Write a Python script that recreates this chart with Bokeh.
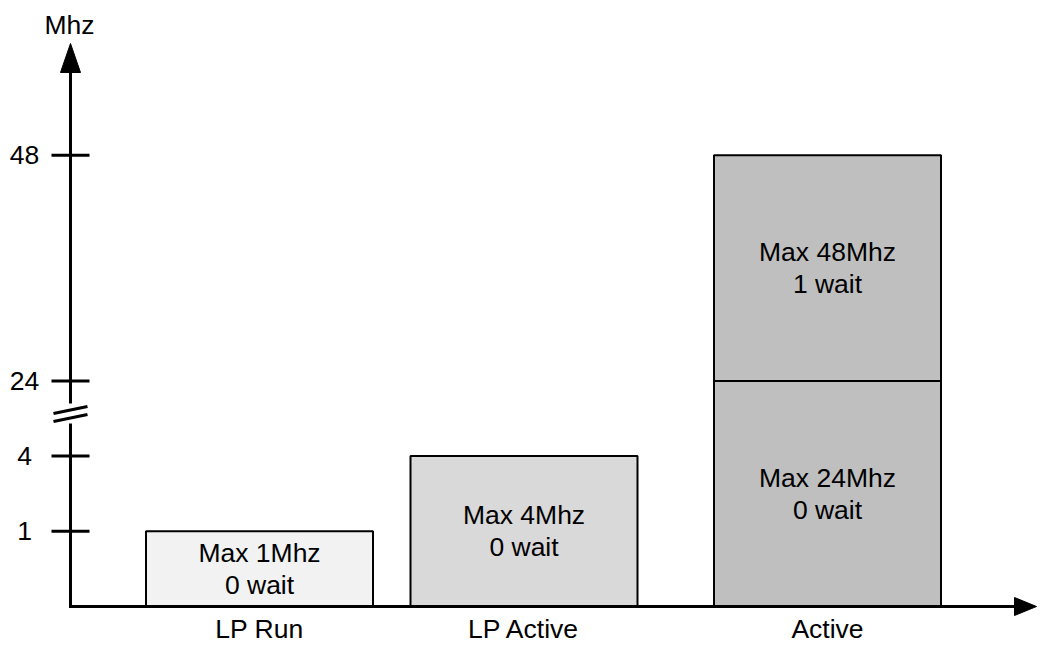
import numpy as np
from bokeh.plotting import figure
from bokeh.models import Range1d
from bokeh.embed import file_html
from bokeh.resources import INLINE
from bokeh.core.properties import value

# ---------------- data ----------------
categories = ["LP Run", "LP Active", "Active"]
seg_category = ["LP Run", "LP Active", "Active", "Active"]
seg_low = [0, 0, 0, 24]
seg_high = [1, 4, 24, 48]
seg_wait = [0, 0, 0, 1]
seg_color = ["#f2f2f2", "#d9d9d9", "#bfbfbf", "#bfbfbf"]
tick_values = [1, 4, 24, 48]
y_title = "Mhz"

# broken (non-linear) value scale: breakpoints -> evenly spaced display levels
SCALE_IN = [0, 1, 4, 24, 48]
SCALE_OUT = [0, 1, 2, 3, 6]


def to_level(v):
    return np.interp(np.asarray(v, dtype=float), SCALE_IN, SCALE_OUT)


# ---------------- layout ----------------
W, H = 1037, 647
PX = 75.2      # pixels per display level
BASE = 606     # screen y of the zero line
AX = 70        # screen x of the value axis


def py(sy):
    return (BASE - sy) / PX


cat_center = {"LP Run": 259, "LP Active": 523.5, "Active": 827}
BAR_W = 227
FONT = value("Liberation Sans")
FS = "26.5px"

p = figure(width=W, height=H, x_range=Range1d(0, W),
           y_range=Range1d(py(H), py(0)),
           x_axis_type=None, y_axis_type=None,
           output_backend="svg", toolbar_location=None, min_border=0,
           outline_line_color=None, background_fill_color="white",
           styles={"margin-bottom": "-8px", "margin-right": "-8px"})
p.grid.visible = False

# bars
xc = np.array([cat_center[c] for c in seg_category])
lo = to_level(seg_low)
hi = to_level(seg_high)
p.quad(left=xc - BAR_W / 2, right=xc + BAR_W / 2, bottom=lo, top=hi,
       fill_color=seg_color, line_color="black", line_width=2)

# bar labels
labels = [f"Max {h}Mhz\n{w} wait" for h, w in zip(seg_high, seg_wait)]
p.text(x=xc, y=(lo + hi) / 2, text=labels, text_font=FONT, text_font_size=FS,
       text_align="center", text_baseline="middle", text_line_height=1.08,
       text_color="black")

# x axis with arrow
p.segment(x0=[AX], y0=[0], x1=[1016], y1=[0], line_color="black", line_width=3)
p.patch(x=[1014, 1036, 1014], y=[py(597), 0, py(615)], fill_color="black",
        line_color="black", line_width=1)

# y axis (broken) with arrow
p.segment(x0=[AX, AX], y0=[py(BASE + 1.5), py(403)], x1=[AX, AX], y1=[py(423), py(70)],
          line_color="black", line_width=3)
p.patch(x=[60, 70, 80], y=[py(72), py(43), py(72)], fill_color="black",
        line_color="black", line_width=1)
# break marks
p.segment(x0=[53, 53], y0=[py(413), py(421)], x1=[87, 87], y1=[py(406), py(414)],
          line_color="black", line_width=3)

# ticks and tick labels
tl = to_level(tick_values)
p.segment(x0=[51] * len(tl), y0=tl, x1=[89] * len(tl), y1=tl,
          line_color="black", line_width=3)
p.text(x=[24] * len(tl), y=tl, text=[str(v) for v in tick_values], text_font=FONT,
       text_font_size=FS, text_align="center", text_baseline="middle", text_color="black")

# axis title
p.text(x=[69], y=[py(24)], text=[y_title], text_font=FONT, text_font_size=FS,
       text_align="center", text_baseline="middle", text_color="black")

# category labels
p.text(x=[cat_center[c] for c in categories], y=[py(628)] * len(categories),
       text=categories, text_font=FONT, text_font_size=FS,
       text_align="center", text_baseline="middle", text_color="black")

open("out.html", "w").write(file_html(p, INLINE))
